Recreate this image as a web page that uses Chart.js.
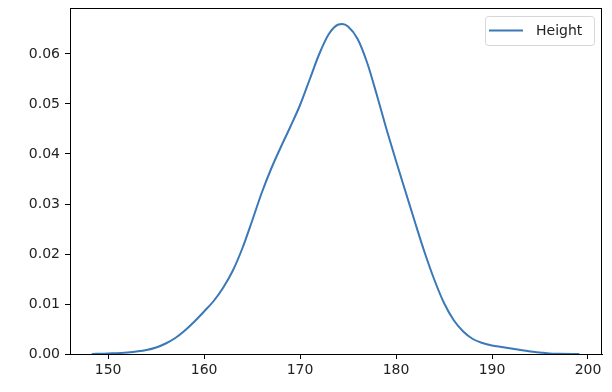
<!DOCTYPE html>
<html>
<head>
<meta charset="utf-8">
<script src="https://cdn.jsdelivr.net/npm/chart.js@4/dist/chart.umd.min.js"></script>
<style>
  body { margin: 0; background: #fff; }
  #wrap { width: 612px; height: 392px; }
</style>
</head>
<body>
<div id="wrap"><canvas id="kdeChart" width="612" height="392"></canvas></div>
<script>
// KDE of heights
const heights = [148.3, 150, 152, 154, 155, 156, 157, 158, 159, 160, 161, 162, 163, 164, 165, 166, 167, 168, 169, 170,
                 171, 172, 173, 174, 174.4, 175, 176, 177, 178, 179, 180, 181, 182, 183, 184, 185, 186, 187, 188, 189,
                 190, 191, 192, 193, 194, 195, 196, 197, 199.1];
const density = [0.0000, 0.0001, 0.0003, 0.0008, 0.0013, 0.0021, 0.0032, 0.0047, 0.0065, 0.0085, 0.0106, 0.0133, 0.0167, 0.0212, 0.0266, 0.0322, 0.0371, 0.0414, 0.0455, 0.0498,
                 0.0549, 0.0600, 0.0640, 0.0659, 0.0660, 0.0655, 0.0630, 0.0582, 0.0518, 0.0450, 0.0386, 0.0324, 0.0262, 0.0202, 0.0148, 0.0102, 0.0068, 0.0045, 0.0030, 0.0022,
                 0.0017, 0.0014, 0.0011, 0.0008, 0.0005, 0.0003, 0.0001, 0.00005, 0.0000];
const xTicks = [150, 160, 170, 180, 190, 200];
const yTicks = [0, 0.01, 0.02, 0.03, 0.04, 0.05, 0.06];
const seriesName = "Height";

const lineColor = "#3a78b8";
const tickFont = { family: "DejaVu Sans", size: 14 };

// frame on top/right + legend box like matplotlib
const framePlugin = {
    id: "frame",
    afterDraw(chart) {
        const ctx = chart.ctx;
        const a = chart.chartArea;
        ctx.save();
        ctx.strokeStyle = "#000";
        ctx.lineWidth = 1;
        ctx.strokeRect(a.left + 0.5, a.top + 0.5, a.right - a.left - 1, a.bottom - a.top);

        // legend
        const bx = a.right - 117, by = a.top + 8, bw = 109, bh = 29;
        ctx.beginPath();
        ctx.roundRect(bx + 0.5, by + 0.5, bw, bh, 3);
        ctx.fillStyle = "rgba(255,255,255,0.8)";
        ctx.fill();
        ctx.strokeStyle = "#d6d6d6";
        ctx.stroke();

        ctx.beginPath();
        ctx.moveTo(bx + 4, by + 14.5);
        ctx.lineTo(bx + 38, by + 14.5);
        ctx.strokeStyle = lineColor;
        ctx.lineWidth = 2;
        ctx.stroke();

        ctx.fillStyle = "#222";
        ctx.font = "14px 'DejaVu Sans'";
        ctx.textBaseline = "middle";
        ctx.fillText(chart.data.datasets[0].label, bx + 51, by + 15);
        ctx.restore();
    }
};

new Chart(document.getElementById("kdeChart"), {
    type: "line",
    data: {
        datasets: [{
            label: seriesName,
            data: heights.map((h, i) => ({ x: h, y: density[i] })),
            borderColor: lineColor,
            backgroundColor: lineColor,
            borderWidth: 2,
            pointRadius: 0,
            cubicInterpolationMode: "monotone",
            fill: false
        }]
    },
    options: {
        responsive: false,
        animation: false,
        layout: { padding: { top: 8, right: 10, left: 0, bottom: 0 } },
        plugins: {
            legend: { display: false },
            tooltip: { enabled: false }
        },
        scales: {
            x: {
                type: "linear",
                min: 146.03,
                max: 201.46,
                afterBuildTicks: s => { s.ticks = xTicks.map(v => ({ value: v })); },
                afterFit: s => { s.height = 38; s.paddingLeft = 0; s.paddingRight = 0; },
                grid: { display: true, drawOnChartArea: false, drawTicks: true, tickLength: 5, tickColor: "#000" },
                border: { display: true, color: "#000", width: 1 },
                ticks: { font: tickFont, color: "#222", padding: 3, maxRotation: 0, callback: v => v }
            },
            y: {
                min: 0,
                max: 0.0692,
                afterBuildTicks: s => { s.ticks = yTicks.map(v => ({ value: v })); },
                afterFit: s => { s.width = 70; s.paddingTop = 0; s.paddingBottom = 0; },
                grid: { display: true, drawOnChartArea: false, drawTicks: true, tickLength: 5, tickColor: "#000" },
                border: { display: true, color: "#000", width: 1 },
                ticks: { font: tickFont, color: "#222", padding: 5, callback: v => v.toFixed(2) }
            }
        }
    },
    plugins: [framePlugin]
});
</script>
</body>
</html>
